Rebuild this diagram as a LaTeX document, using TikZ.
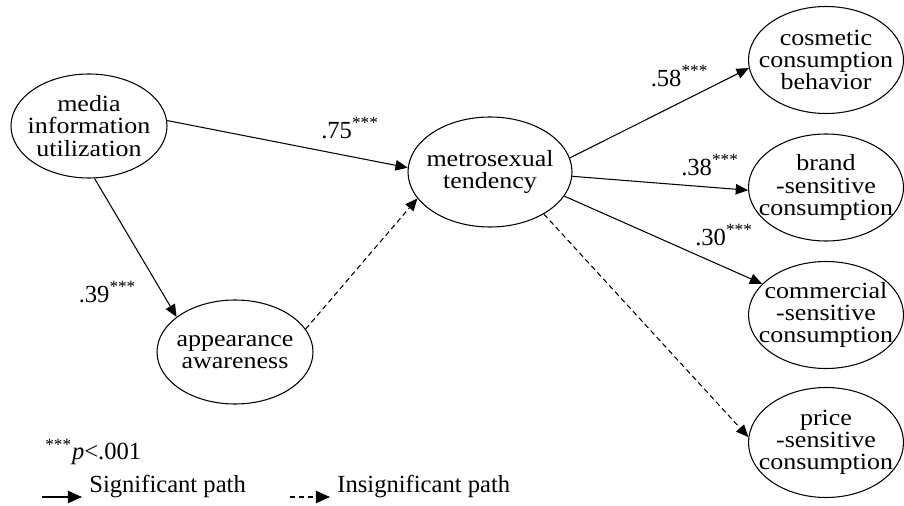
\documentclass[tikz,border=0pt]{standalone}
\usepackage{fontspec}
\setmainfont{Liberation Serif}
\newfontfamily\widefont[FakeStretch=1.12]{Liberation Serif}
\usetikzlibrary{arrows.meta,shapes.geometric}

\begin{document}
\begin{tikzpicture}[>={Triangle[length=7pt,width=6pt]},node distance=2.55cm,
  latent/.style={ellipse,draw,line width=0.6pt,minimum width=3.12cm,minimum height=2.08cm,inner sep=0pt},
  txt/.style={align=center,inner sep=0pt,font=\widefont\fontsize{13.2}{12.6}\selectfont},
  coef/.style={inner sep=0pt,font=\fontsize{14}{16}\selectfont},
  sig/.style={->,line width=0.6pt},
  insig/.style={->,line width=0.6pt,dash pattern=on 3pt off 2pt}]

\useasboundingbox (0,0) rectangle (18.08,10.1);

% latent variables
\node[latent] (media) at (1.78,7.58) {};
\node[latent] (appear) at (4.70,3.06) {};
\node[latent,minimum width=3.28cm,minimum height=2.2cm] (metro) at (9.80,6.66) {};

\node[latent,minimum width=3.1cm,minimum height=2.14cm] (cosmetic) at (16.52,8.90) {};
\node[latent,minimum width=3.1cm,minimum height=2.14cm] (brand) [below of=cosmetic] {};
\node[latent,minimum width=3.1cm,minimum height=2.14cm] (commercial) [below of=brand] {};
\node[latent,minimum width=3.1cm,minimum height=2.2cm] (price) [below of=commercial] {};

\node[txt] (media-t) at (media) {media\\information\\utilization};
\node[txt] (appear-t) at (appear) {appearance\\awareness};
\node[txt] (metro-t) at (metro) {metrosexual\\tendency};
\node[txt] (cosmetic-t) at (cosmetic) {cosmetic\\consumption\\behavior};
\node[txt] (brand-t) at (brand) {brand\\-sensitive\\consumption};
\node[txt] (commercial-t) at (commercial) {commercial\\-sensitive\\consumption};
\node[txt] (price-t) at (price) {price\\-sensitive\\consumption};

% paths
\draw[sig] (media.4) -- (metro.177);
\draw[sig] (media.-84) -- (appear.149);
\draw[insig] (appear.18) -- (metro.-160);
\draw[sig] (metro.10) -- (cosmetic.186);
\draw[sig] (metro.-3) -- (brand.182);
\draw[sig] (metro.-18) -- (commercial.154);
\draw[insig] (metro.-38) -- (price.176);

% coefficients
\node[coef] (c75) at (7.00,7.54) {.75\textsuperscript{***}};
\node[coef] (c39) at (2.15,4.26) {.39\textsuperscript{***}};
\node[coef] (c58) at (13.59,8.58) {.58\textsuperscript{***}};
\node[coef] (c38) at (14.20,6.80) {.38\textsuperscript{***}};
\node[coef] (c30) at (14.48,5.40) {.30\textsuperscript{***}};

% legend
\node[coef,anchor=west] (pnote) at (0.9,1.06) {\textsuperscript{***}\textit{p}<.001};
\coordinate (s1) at (0.84,0.16);
\coordinate (s2) at (1.64,0.16);
\draw[sig,>={Triangle[length=8pt,width=7pt]}] (s1) -- (s2);
\node[coef,anchor=west] (sigtxt) at (1.78,0.38) {Significant path};
\coordinate (i1) at (5.80,0.16);
\coordinate (i2) at (6.60,0.16);
\draw[insig,>={Triangle[length=8pt,width=7pt]}] (i1) -- (i2);
\node[coef,anchor=west] (insigtxt) at (6.74,0.38) {Insignificant path};

\end{tikzpicture}
\end{document}
